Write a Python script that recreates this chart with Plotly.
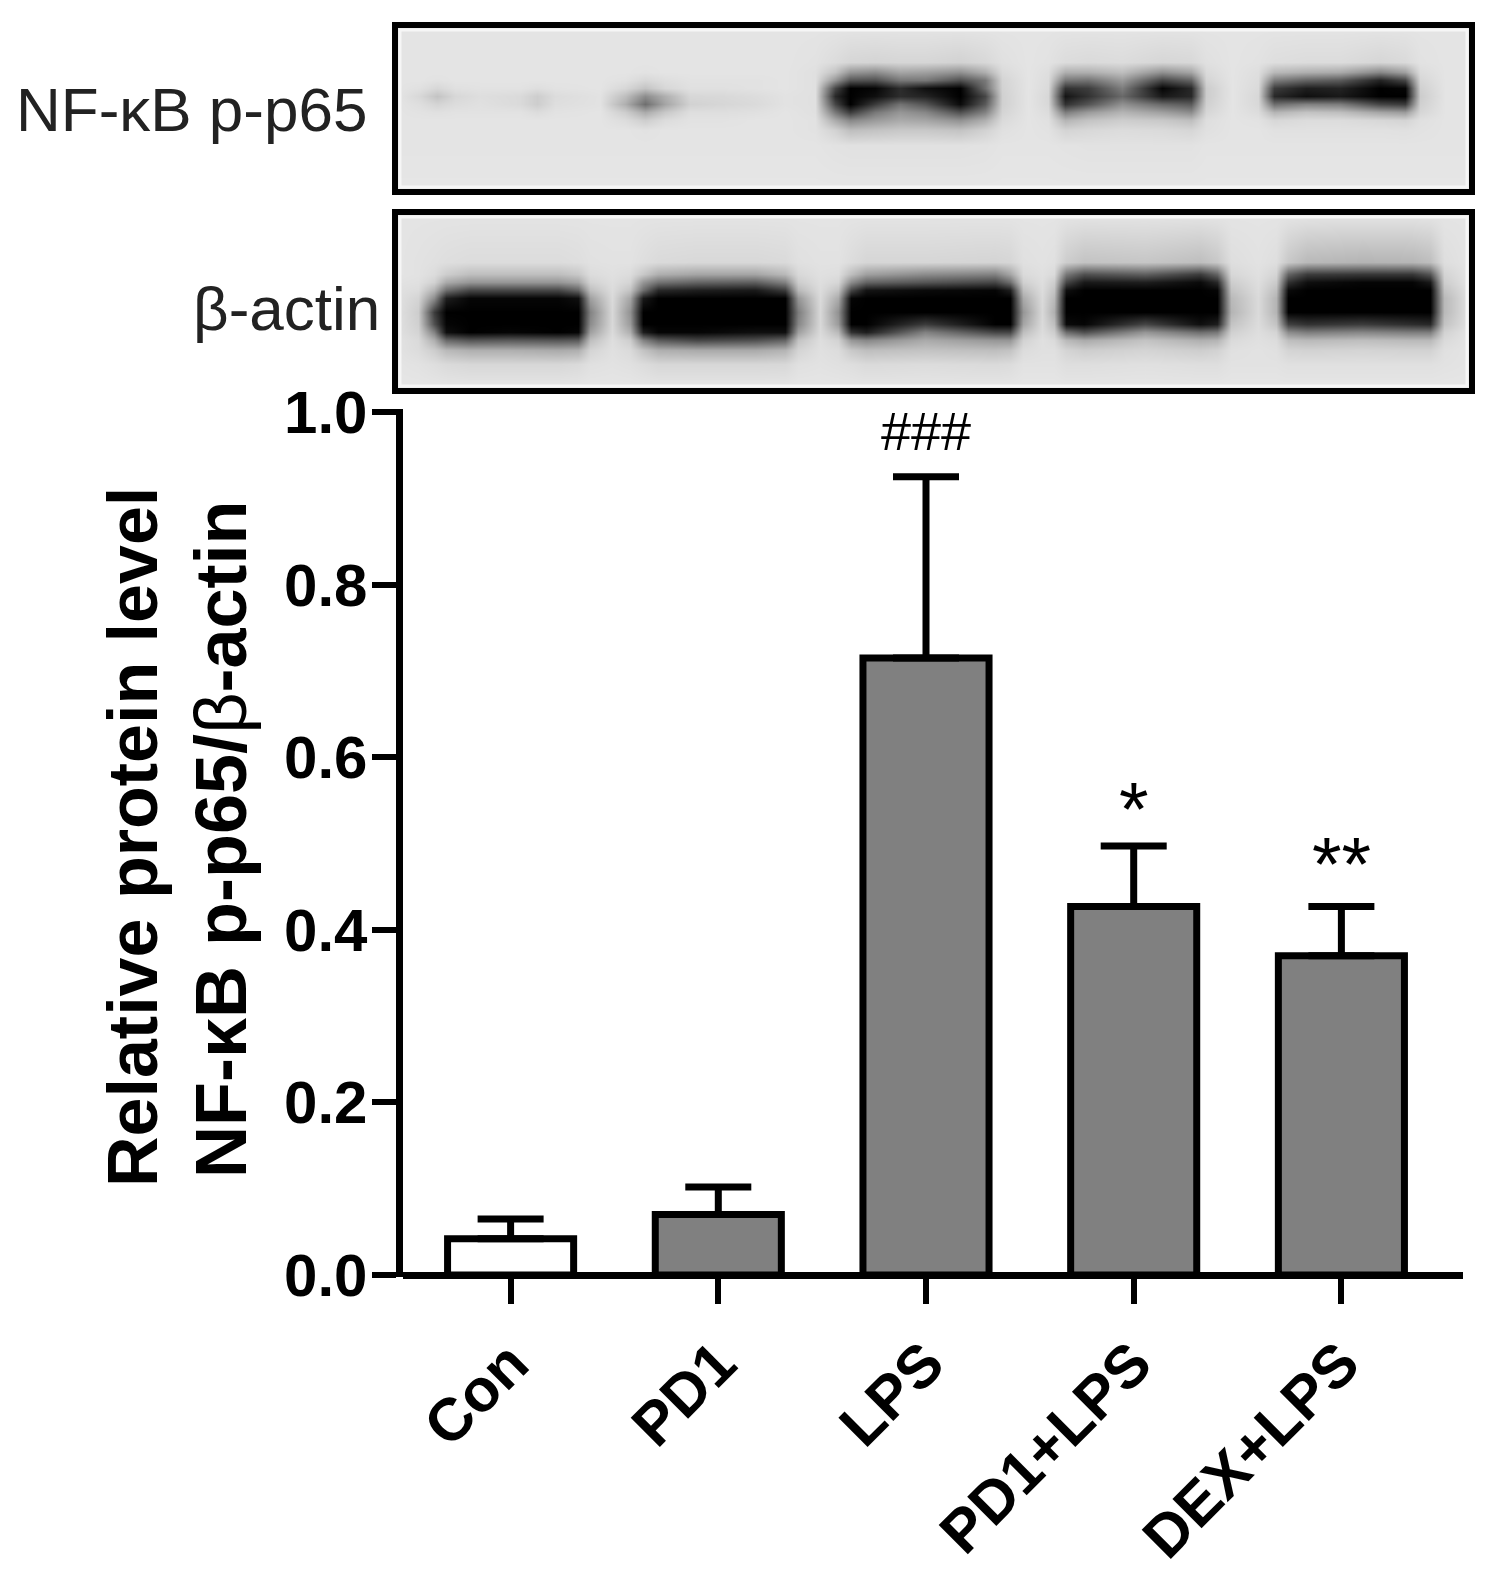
import plotly.graph_objects as go

W, H = 1504, 1591
FONT = "Liberation Sans"

groups = ["Con", "PD1", "LPS", "PD1+LPS", "DEX+LPS"]
means = [0.042, 0.070, 0.715, 0.427, 0.370]
errors = [0.023, 0.032, 0.210, 0.070, 0.057]
bar_colours = ["white", "#808080", "#808080", "#808080", "#808080"]
y_ticks = [0.0, 0.2, 0.4, 0.6, 0.8, 1.0]

marks = ["###", "*", "**"]
mark_groups = ["LPS", "PD1+LPS", "DEX+LPS"]
mark_levels = [0.978, 0.541, 0.477]

p65_x = [398, 420, 437, 455, 480, 520, 537, 555, 600, 625, 645, 665, 690, 720, 755, 785,
         815, 835, 850, 875, 900, 925, 960, 985, 1002, 1028, 1048, 1065, 1088, 1122, 1162, 1191,
         1206, 1232, 1258, 1274, 1306, 1340, 1380, 1405, 1420, 1445, 1469]
p65_y = [28, 62, 72, 80, 88, 96, 104, 112, 120, 130, 145, 189]
p65_grey = [
    [228, 228, 228, 228, 228, 228, 228, 228, 228, 228, 228, 228, 228, 228, 228, 228,
     228, 228, 228, 228, 228, 228, 228, 228, 228, 228, 228, 228, 228, 228, 228, 228,
     228, 228, 228, 228, 228, 228, 228, 228, 228, 228, 228],
    [228, 228, 228, 228, 228, 228, 228, 228, 228, 228, 228, 228, 228, 228, 228, 228,
     226, 220, 214, 212, 214, 214, 210, 216, 224, 228, 226, 220, 218, 220, 214, 216,
     224, 228, 226, 222, 220, 220, 214, 218, 226, 228, 228],
    [228, 228, 228, 228, 228, 228, 228, 228, 228, 228, 226, 228, 228, 228, 228, 228,
     224, 195, 150, 140, 165, 160, 145, 175, 218, 228, 222, 175, 175, 190, 145, 165,
     218, 228, 222, 185, 175, 170, 135, 160, 220, 228, 228],
    [228, 228, 226, 228, 228, 228, 228, 228, 228, 225, 215, 222, 226, 226, 226, 228,
     224, 150, 85, 80, 120, 120, 80, 120, 212, 228, 220, 120, 115, 155, 70, 100,
     212, 228, 220, 125, 100, 90, 35, 70, 214, 228, 228],
    [228, 224, 215, 224, 226, 226, 222, 226, 228, 215, 195, 215, 224, 224, 226, 228,
     224, 70, 0, 5, 45, 15, 0, 110, 210, 228, 218, 50, 60, 125, 5, 40,
     204, 228, 218, 60, 30, 35, 0, 5, 208, 228, 228],
    [228, 215, 195, 215, 222, 218, 205, 220, 226, 190, 140, 175, 215, 216, 220, 226,
     224, 40, 0, 15, 45, 35, 0, 70, 208, 228, 215, 20, 50, 105, 25, 40,
     204, 228, 215, 40, 15, 25, 0, 0, 204, 228, 228],
    [228, 222, 212, 220, 224, 218, 205, 222, 226, 175, 110, 165, 210, 214, 218, 226,
     224, 70, 0, 60, 115, 85, 10, 90, 208, 228, 216, 50, 85, 145, 105, 90,
     208, 228, 216, 110, 130, 125, 70, 60, 208, 228, 228],
    [228, 226, 224, 226, 226, 226, 220, 226, 228, 205, 170, 200, 222, 222, 224, 228,
     224, 120, 60, 120, 150, 135, 80, 130, 212, 228, 220, 125, 155, 180, 160, 140,
     214, 228, 220, 180, 195, 190, 165, 155, 214, 228, 228],
    [228, 228, 228, 228, 228, 228, 228, 228, 228, 220, 205, 220, 226, 226, 228, 228,
     226, 170, 135, 155, 170, 165, 145, 175, 218, 228, 224, 180, 195, 205, 200, 190,
     222, 228, 226, 215, 220, 220, 215, 212, 224, 228, 228],
    [228, 228, 228, 228, 228, 228, 228, 228, 228, 228, 226, 228, 228, 228, 228, 228,
     226, 210, 190, 195, 200, 200, 195, 210, 224, 228, 226, 212, 216, 220, 218, 214,
     224, 228, 228, 225, 225, 225, 225, 224, 226, 228, 228],
    [228, 228, 228, 228, 228, 228, 228, 228, 228, 228, 228, 228, 228, 228, 228, 228,
     228, 226, 225, 225, 225, 225, 225, 226, 228, 228, 228, 227, 226, 226, 226, 226,
     228, 228, 228, 228, 228, 228, 228, 228, 228, 228, 228],
    [230, 230, 230, 230, 230, 230, 230, 230, 230, 230, 230, 230, 230, 230, 230, 230,
     230, 230, 230, 230, 230, 230, 230, 230, 230, 230, 230, 230, 230, 230, 230, 230,
     230, 230, 230, 230, 230, 230, 230, 230, 230, 230, 230],
]

actin_x = [398, 418, 434, 446, 470, 510, 558, 578, 590, 612, 630, 643, 658, 697, 755, 785,
           798, 820, 838, 851, 866, 925, 995, 1010, 1023, 1042, 1054, 1066, 1084, 1145, 1200,
           1217, 1231, 1258, 1276, 1288, 1307, 1362, 1412, 1430, 1444, 1469]
actin_y = [215, 262, 274, 282, 290, 298, 312, 324, 332, 340, 350, 364, 388]
actin_grey = [
    [228, 228, 228, 228, 228, 228, 228, 228, 228, 228, 228, 228, 228, 228, 228, 228, 228, 228, 228, 228, 228,
     228, 228, 228, 228, 228, 228, 228, 228, 228, 228, 228, 228, 228, 228, 228, 228, 228, 228, 228, 228, 228],
    [228, 226, 224, 222, 220, 220, 220, 222, 225, 226, 226, 222, 218, 216, 216, 218, 224, 226, 226, 220, 214,
     214, 212, 214, 224, 226, 224, 205, 195, 198, 190, 200, 222, 226, 222, 200, 185, 180, 182, 190, 222, 228],
    [228, 226, 220, 205, 190, 190, 190, 200, 220, 224, 220, 200, 175, 165, 165, 185, 216, 224, 222, 190, 160,
     140, 130, 165, 218, 224, 218, 120, 80, 95, 60, 100, 215, 224, 212, 100, 60, 55, 55, 85, 212, 228],
    [226, 224, 210, 170, 150, 150, 150, 165, 210, 222, 212, 150, 115, 100, 95, 130, 205, 222, 214, 140, 100,
     85, 70, 110, 208, 222, 205, 70, 25, 30, 10, 40, 205, 222, 202, 50, 15, 5, 5, 25, 205, 228],
    [224, 220, 180, 110, 70, 70, 70, 100, 190, 220, 195, 110, 40, 30, 25, 60, 185, 220, 195, 70, 20,
     10, 5, 30, 190, 220, 195, 15, 0, 0, 0, 5, 195, 220, 190, 10, 0, 0, 0, 0, 195, 226],
    [224, 212, 140, 30, 5, 5, 5, 15, 160, 218, 165, 25, 0, 0, 0, 0, 150, 218, 170, 5, 0,
     0, 0, 0, 170, 218, 185, 0, 0, 0, 0, 0, 185, 218, 180, 0, 0, 0, 0, 0, 185, 226],
    [224, 205, 60, 0, 0, 0, 0, 0, 130, 216, 145, 0, 0, 0, 0, 0, 125, 216, 145, 0, 0,
     0, 0, 0, 150, 216, 175, 0, 0, 0, 0, 0, 180, 218, 180, 0, 0, 0, 0, 0, 185, 226],
    [224, 208, 80, 5, 0, 0, 0, 0, 140, 216, 155, 0, 0, 0, 0, 0, 135, 216, 155, 0, 0,
     60, 0, 0, 165, 218, 190, 10, 5, 70, 15, 30, 195, 220, 195, 65, 50, 60, 45, 40, 195, 226],
    [224, 212, 130, 15, 0, 5, 0, 5, 160, 218, 175, 30, 5, 5, 15, 15, 160, 218, 185, 50, 30,
     130, 70, 70, 190, 220, 205, 110, 80, 150, 110, 120, 208, 222, 212, 140, 125, 135, 125, 125, 210, 228],
    [226, 218, 175, 105, 85, 90, 85, 90, 190, 222, 205, 130, 90, 70, 80, 100, 195, 222, 210, 150, 135,
     170, 150, 150, 210, 224, 218, 185, 170, 195, 175, 180, 218, 224, 220, 190, 185, 190, 185, 185, 218, 228],
    [226, 220, 205, 185, 175, 175, 170, 175, 212, 224, 218, 195, 175, 170, 170, 180, 212, 224, 220, 200, 190,
     195, 190, 195, 220, 224, 224, 212, 205, 212, 205, 210, 224, 226, 224, 212, 210, 212, 210, 210, 224, 228],
    [228, 226, 222, 218, 215, 215, 215, 218, 224, 226, 224, 220, 215, 215, 215, 216, 224, 226, 224, 222, 218,
     220, 218, 220, 226, 226, 226, 222, 222, 224, 222, 222, 226, 226, 226, 224, 224, 224, 224, 224, 226, 228],
    [230, 230, 230, 230, 230, 230, 230, 230, 230, 230, 230, 230, 230, 230, 230, 230, 230, 230, 230, 230, 230,
     230, 230, 230, 230, 230, 230, 230, 230, 230, 230, 230, 230, 230, 230, 230, 230, 230, 230, 230, 230, 230],
]


def px_x(x0, x1):
    return [x0 / W, x1 / W]


def px_y(top, bottom):
    return [1 - bottom / H, 1 - top / H]


def blot(fig, x, y, grey, axis_id):
    fig.add_trace(
        go.Heatmap(
            x=x,
            y=y,
            z=grey,
            zmin=0,
            zmax=255,
            zsmooth="best",
            colorscale=[[0, "black"], [1, "white"]],
            showscale=False,
            xaxis=f"x{axis_id}",
            yaxis=f"y{axis_id}",
        )
    )


fig = go.Figure()

fig.add_trace(
    go.Bar(
        x=groups,
        y=means,
        width=0.607,
        marker=dict(color=bar_colours, line=dict(color="black", width=7)),
        error_y=dict(
            type="data",
            array=errors,
            symmetric=False,
            arrayminus=[0, 0, 0, 0, 0],
            color="black",
            thickness=7,
            width=33,
        ),
    )
)
blot(fig, p65_x, p65_y, p65_grey, 2)
blot(fig, actin_x, actin_y, actin_grey, 3)

blot_axis = dict(
    showline=True,
    mirror=True,
    linecolor="black",
    linewidth=6,
    showticklabels=False,
    ticks="",
    showgrid=False,
    zeroline=False,
)

fig.update_layout(
    width=W,
    height=H,
    margin=dict(l=0, r=0, t=0, b=0, pad=0, autoexpand=False),
    paper_bgcolor="white",
    plot_bgcolor="white",
    showlegend=False,
    font=dict(family=FONT, color="black"),
    xaxis=dict(
        domain=px_x(402.5, 1463),
        range=[-0.5205, 4.5855],
        categoryorder="array",
        categoryarray=groups,
        showline=False,
        showgrid=False,
        zeroline=False,
        ticks="outside",
        ticklen=26,
        tickwidth=6,
        tickcolor="black",
        tickangle=-45,
        tickfont=dict(family=FONT, size=60, color="black", weight="bold"),
    ),
    yaxis=dict(
        domain=px_y(409, 1277),
        range=[-0.0023, 1.0035],
        tickvals=y_ticks,
        tickformat=".1f",
        showline=True,
        linecolor="black",
        linewidth=7,
        showgrid=False,
        zeroline=True,
        zerolinecolor="black",
        zerolinewidth=7,
        ticks="outside",
        ticklen=24,
        tickwidth=6,
        tickcolor="black",
        ticklabelstandoff=-8,
        tickfont=dict(family=FONT, size=60, color="black", weight="bold"),
    ),
    xaxis2=dict(blot_axis, domain=px_x(398, 1469), range=[398, 1469], anchor="y2"),
    yaxis2=dict(blot_axis, domain=px_y(28, 189), range=[189, 28], anchor="x2"),
    xaxis3=dict(blot_axis, domain=px_x(398, 1469), range=[398, 1469], anchor="y3"),
    yaxis3=dict(blot_axis, domain=px_y(215, 388), range=[388, 215], anchor="x3"),
)

# pale rim just inside each blot frame
for axis_id, height in [(2, 161), (3, 173)]:
    fig.add_shape(
        type="rect",
        xref=f"x{axis_id} domain",
        yref=f"y{axis_id} domain",
        x0=2 / 1071,
        x1=1 - 2 / 1071,
        y0=2 / height,
        y1=1 - 2 / height,
        line=dict(color="#f6f6f6", width=3),
    )

for text, group, level in zip(marks, mark_groups, mark_levels):
    fig.add_annotation(
        x=group,
        y=level,
        text=text,
        showarrow=False,
        yanchor="middle",
        font=dict(family=FONT, size=54 if text == "###" else 76, color="black"),
    )

for text, x, y in [("NF-κB p-p65", 192, 109), ("β-actin", 286, 308)]:
    fig.add_annotation(
        xref="paper",
        yref="paper",
        x=x / W,
        y=1 - y / H,
        xanchor="center",
        yanchor="middle",
        text=text,
        showarrow=False,
        font=dict(family=FONT, size=62, color="#222222"),
    )

for text, x, y, size in [
    ("<b>Relative protein level</b>", 133, 837, 70),
    ("<b>NF-κB p-p65/</b>β<b>-actin</b>", 221, 839, 72),
]:
    fig.add_annotation(
        xref="paper",
        yref="paper",
        x=x / W,
        y=1 - y / H,
        xanchor="center",
        yanchor="middle",
        text=text,
        textangle=-90,
        showarrow=False,
        font=dict(family=FONT, size=size, color="black"),
    )

# the page's default body margin would push everything 8px down and right
fig.write_html(
    "out.html",
    config={"displayModeBar": False},
    post_script="document.body.style.margin = '0';",
)
